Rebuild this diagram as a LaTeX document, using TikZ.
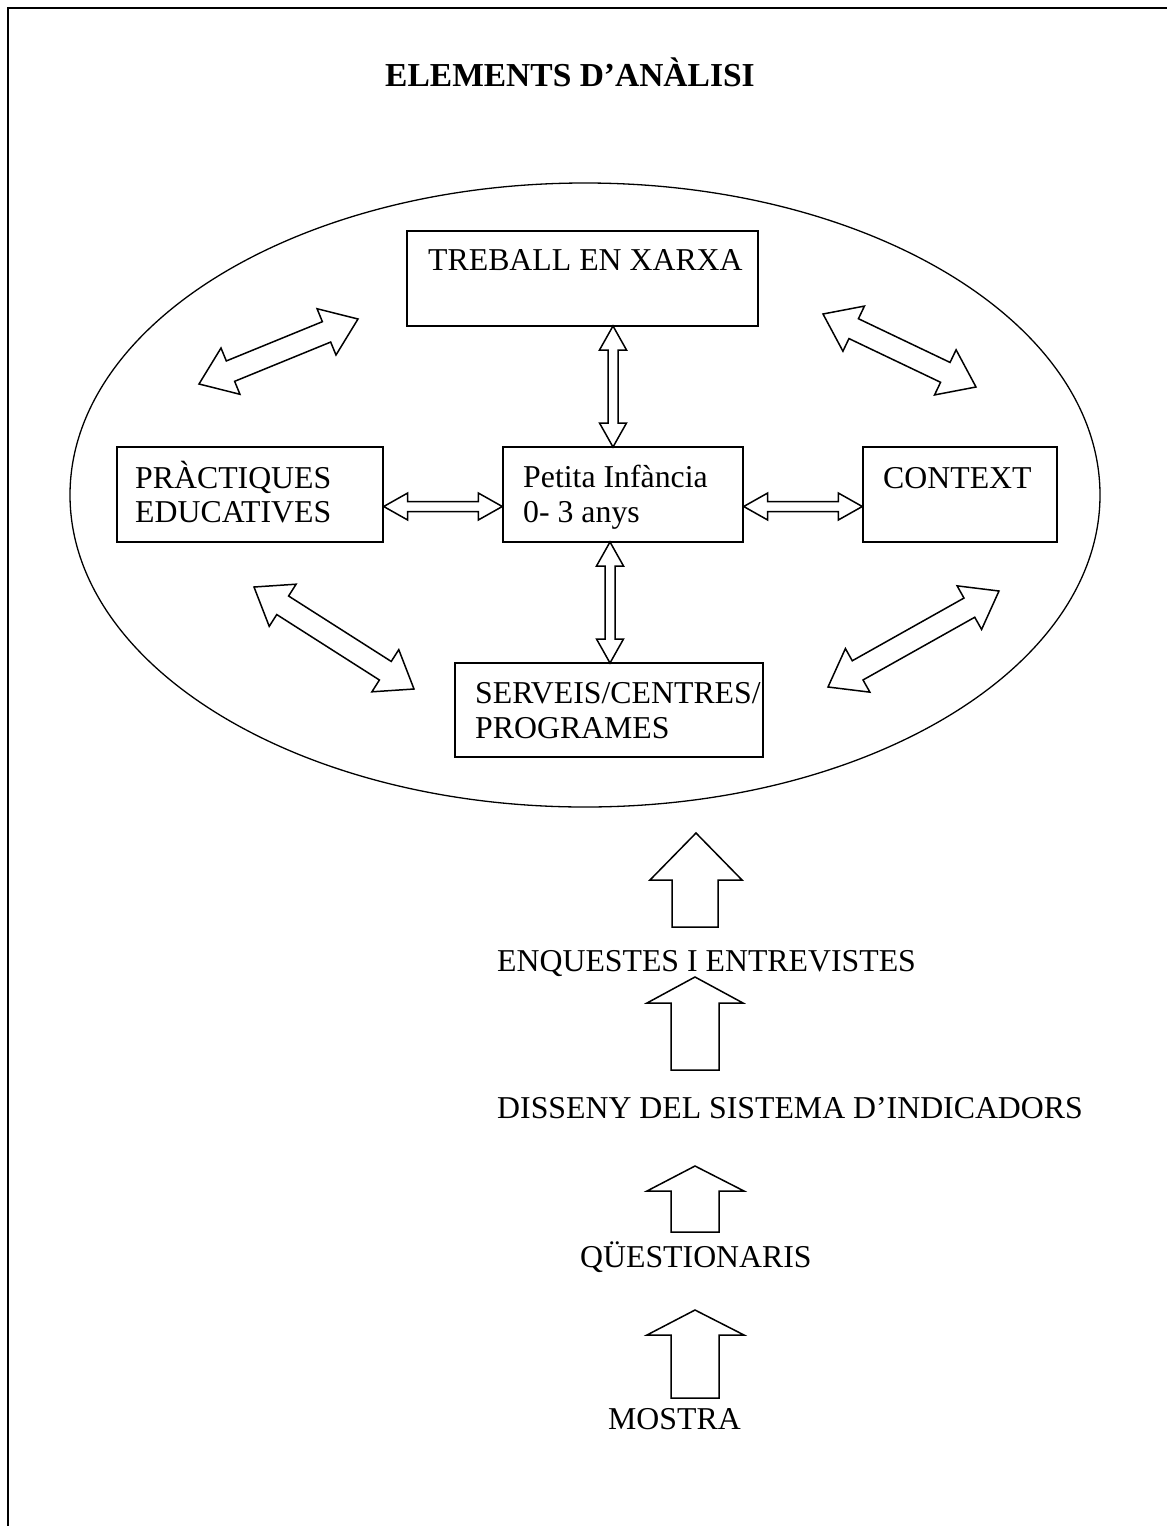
\documentclass[tikz,border=0pt]{standalone}
\usepackage{fontspec}
\setmainfont{Liberation Serif}
\usetikzlibrary{calc,fit}
\tikzset{
  arrline/.style={draw=black, line width=1.5pt, line join=miter, fill=white},
  box/.style={draw=black, line width=1.4pt, inner sep=0pt},
  txt/.style={anchor=base west, inner sep=0pt, font=\fontsize{31.8}{36}\selectfont},
}
% #1,#2 tips; #3 shaft half width; #4 head half width; #5 head length
\newcommand\dblarr[5]{%
  \draw[arrline] (#1)
    -- ($(#1)!#5!(#2)!#4!90:(#2)$)
    -- ($(#1)!#5!(#2)!#3!90:(#2)$)
    -- ($(#2)!#5!(#1)!#3!-90:(#1)$)
    -- ($(#2)!#5!(#1)!#4!-90:(#1)$)
    -- (#2)
    -- ($(#2)!#5!(#1)!#4!90:(#1)$)
    -- ($(#2)!#5!(#1)!#3!90:(#1)$)
    -- ($(#1)!#5!(#2)!#3!-90:(#2)$)
    -- ($(#1)!#5!(#2)!#4!-90:(#2)$)
    -- cycle;}
\begin{document}
\begin{tikzpicture}[x=1pt,y=-1pt]
\useasboundingbox (0,0) rectangle (1167,1526);
% frame (top and left only)
\draw[line width=2pt] (8,1526) -- (8,8) -- (1167,8);
% title
\node[anchor=base, inner sep=0pt, font=\fontsize{33.5}{38}\selectfont\bfseries] (title) at (570,86) {ELEMENTS D’ANÀLISI};
% ellipse
\draw[line width=1.3pt] (585,495) ellipse [x radius=515, y radius=312];
% boxes
\node[box, fit={(407,231) (758,326)}] (treb) {};
\node[box, fit={(117,447) (383,542)}] (prac) {};
\node[box, fit={(503,447) (743,542)}] (pet) {};
\node[box, fit={(863,447) (1057,542)}] (ctx) {};
\node[box, fit={(455,663) (763,757)}] (serv) {};
% box texts
\node[txt] (trebt) at (428,270) {TREBALL EN XARXA};
\node[txt] (prac1) at (135,488) {PRÀCTIQUES};
\node[txt] (prac2) at (135,522) {EDUCATIVES};
\node[txt] (pet1) at (523,487) {Petita Infància};
\node[txt] (pet2) at (523,522) {0- 3 anys};
\node[txt] (ctxt1) at (883,488) {CONTEXT};
\node[txt] (serv1) at (475,703) {SERVEIS/CENTRES/};
\node[txt] (serv2) at (475,738) {PROGRAMES};
% arrow end points
\coordinate (h1a) at ($(prac.east)+(0,12)$);
\coordinate (h1b) at ($(pet.west)+(0,12)$);
\coordinate (h2a) at ($(pet.east)+(0,12)$);
\coordinate (h2b) at ($(ctx.west)+(0,12)$);
\coordinate (v1a) at (613,326);
\coordinate (v1b) at (613,447);
\coordinate (v2a) at (610,542);
\coordinate (v2b) at (610,663);
\coordinate (d1a) at (199,384);
\coordinate (d1b) at (358,319);
\coordinate (d2a) at (823,314);
\coordinate (d2b) at (976,387);
\coordinate (d3a) at (254,587);
\coordinate (d3b) at (414,689);
\coordinate (d4a) at (828,687);
\coordinate (d4b) at (999,591);
\dblarr{h1a}{h1b}{5pt}{13.5pt}{24pt}
\dblarr{h2a}{h2b}{5pt}{13.5pt}{24pt}
\dblarr{v1a}{v1b}{5pt}{13.5pt}{24pt}
\dblarr{v2a}{v2b}{5pt}{13.5pt}{24pt}
\dblarr{d1a}{d1b}{11pt}{25pt}{34pt}
\dblarr{d2a}{d2b}{11pt}{25pt}{34pt}
\dblarr{d3a}{d3b}{11pt}{25pt}{34pt}
\dblarr{d4a}{d4b}{11pt}{25pt}{34pt}
% lower texts
\node[txt] (enq) at (497,971) {ENQUESTES I ENTREVISTES};
\node[txt] (dis) at (497,1118) {DISSENY DEL SISTEMA D’INDICADORS};
\node[txt] (que) at (580,1267) {QÜESTIONARIS};
\node[txt] (mos) at (608,1429) {MOSTRA};
% block up arrows
\draw[arrline] (696,833) -- (742,880) -- (718,880) -- (718,927) -- (672,927) -- (672,880) -- (650,880) -- cycle;
\draw[arrline] (695,977) -- (743,1003) -- (719,1003) -- (719,1070) -- (671,1070) -- (671,1003) -- (647,1003) -- cycle;
\draw[arrline] (695,1166) -- (744,1191) -- (719,1191) -- (719,1232) -- (671,1232) -- (671,1191) -- (647,1191) -- cycle;
\draw[arrline] (695,1310) -- (744,1335) -- (719,1335) -- (719,1398) -- (671,1398) -- (671,1335) -- (647,1335) -- cycle;
\end{tikzpicture}
\end{document}
